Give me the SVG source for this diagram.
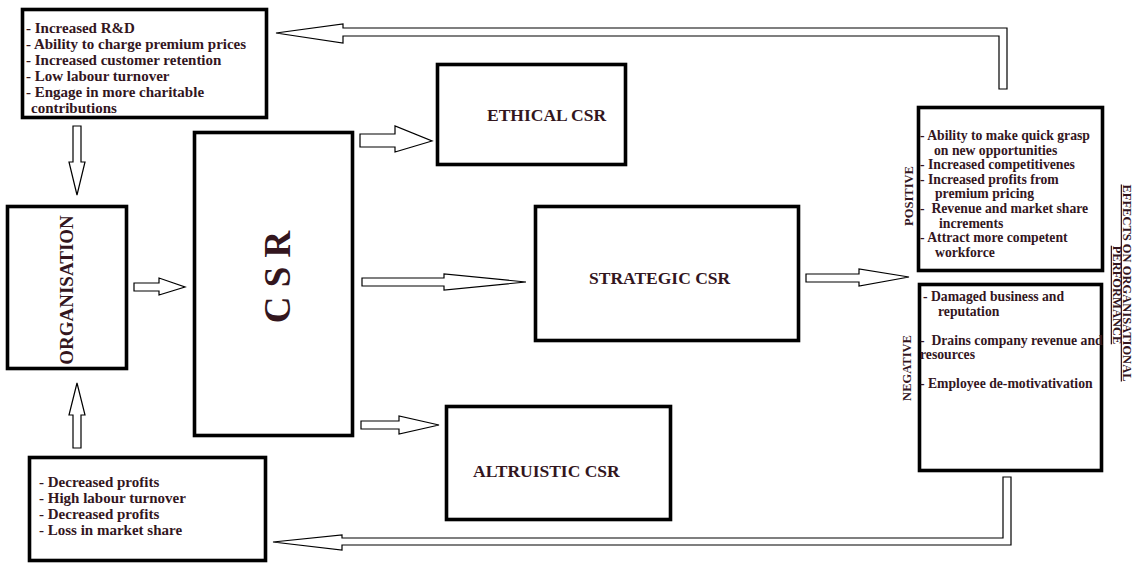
<svg xmlns="http://www.w3.org/2000/svg" width="1136" height="568" viewBox="0 0 1136 568">
<style>
.box{fill:#fff;stroke:#000;stroke-width:3.6}
.arr{fill:#fff;stroke:#000;stroke-width:1.2;stroke-linejoin:miter}
text{font-family:"Liberation Serif","Times New Roman",serif;font-weight:bold;fill:#33161e;white-space:pre}
.t15{font-size:15px}
.t14{font-size:13.7px}
.title{font-size:17.5px}
.side{font-size:12.5px}
</style>
<rect width="1136" height="568" fill="#fff"/>
<g id="connectors">
 <polygon class="arr" points="73,126 81,126 81,162 85,162 77,195 69,162 73,162"/>
 <polygon class="arr" points="73,448 81,448 81,415 85,415 77,383 69,415 73,415"/>
 <polygon class="arr" points="134,283 159,283 159,278 185,287 159,295 159,291 134,291"/>
 <polygon class="arr" points="360,134 395,134 395,126 432,141 395,152 395,147 360,147"/>
 <polygon class="arr" points="362,278 444,278 444,274 526,282 444,290 444,286 362,286"/>
 <polygon class="arr" points="361,421 399,421 399,416 439,425 399,434 399,429 361,429"/>
 <polygon class="arr" points="806,274 859,274 859,269 909,277 859,286 859,282 806,282"/>
 <polygon class="arr" points="276,33 343,24 343,28 1007,28 1007,89 999,89 999,36 343,36 343,43"/>
 <polygon class="arr" points="273,542 342,535 342,538 1003,538 1003,477 1011,477 1011,545 342,545 342,550"/>
</g>
<g id="benefits">
 <rect class="box" x="22.5" y="9.5" width="244" height="108"/>
 <text class="t15" x="26" y="33">- Increased R&amp;D</text>
 <text class="t15" x="26" y="49">- Ability to charge premium prices</text>
 <text class="t15" x="26" y="65">- Increased customer retention</text>
 <text class="t15" x="26" y="81">- Low labour turnover</text>
 <text class="t15" x="26" y="97">- Engage in more charitable</text>
 <text class="t15" x="31" y="113">contributions</text>
</g>
<g id="organisation">
 <rect class="box" x="7.5" y="206.5" width="119" height="162"/>
 <text transform="translate(73,290) rotate(-90)" text-anchor="middle" font-size="19">ORGANISATION</text>
</g>
<g id="csr">
 <rect class="box" x="194.5" y="132.5" width="158" height="303"/>
 <text transform="translate(290,277) rotate(-90)" text-anchor="middle" font-size="37" fill="#4a1828">C S R</text>
</g>
<g id="ethical">
 <rect class="box" x="437.5" y="64.5" width="188" height="100"/>
 <text class="title" x="487" y="121">ETHICAL CSR</text>
</g>
<g id="strategic">
 <rect class="box" x="535.5" y="206.5" width="263" height="134"/>
 <text class="title" x="589" y="284">STRATEGIC CSR</text>
</g>
<g id="altruistic">
 <rect class="box" x="446.5" y="406.5" width="224" height="113"/>
 <text class="title" x="473" y="477">ALTRUISTIC CSR</text>
</g>
<g id="positive">
 <rect class="box" x="918.5" y="107.5" width="184" height="163"/>
 <text class="t14" x="920" y="140">- Ability to make quick grasp</text>
 <text class="t14" x="934" y="154.6">on new opportunities</text>
 <text class="t14" x="920" y="169.2">- Increased competitivenes</text>
 <text class="t14" x="920" y="183.8">- Increased profits from</text>
 <text class="t14" x="935" y="198.4">premium pricing</text>
 <text class="t14" x="920" y="213">-  Revenue and market share</text>
 <text class="t14" x="939" y="227.6">increments</text>
 <text class="t14" x="920" y="242.2">- Attract more competent</text>
 <text class="t14" x="935" y="256.8">workforce</text>
</g>
<g id="negative">
 <rect class="box" x="919.5" y="284.5" width="182" height="186"/>
 <text class="t14" x="923" y="301">- Damaged business and</text>
 <text class="t14" x="938" y="316">reputation</text>
 <text class="t14" x="920" y="345">-  Drains company revenue and</text>
 <text class="t14" x="920" y="359">resources</text>
 <text class="t14" x="920" y="388">- Employee de-motivativation</text>
</g>
<g id="costs">
 <rect class="box" x="29.5" y="457.5" width="236" height="103"/>
 <text class="t15" x="39" y="487">- Decreased profits</text>
 <text class="t15" x="39" y="503">- High labour turnover</text>
 <text class="t15" x="39" y="519">- Decreased profits</text>
 <text class="t15" x="39" y="535">- Loss in market share</text>
</g>
<g id="labels">
 <text class="side" transform="translate(913,196) rotate(-90)" text-anchor="middle">POSITIVE</text>
 <text class="side" transform="translate(911,368) rotate(-90)" text-anchor="middle">NEGATIVE</text>
 <text class="side" transform="translate(1123,283) rotate(90)" text-anchor="middle" text-decoration="underline" fill="#4a1828">EFFECTS ON ORGANISATIONAL</text>
 <text class="side" transform="translate(1113,295) rotate(90)" text-anchor="middle" text-decoration="underline" fill="#4a1828" font-size="11">PERFORMANCE</text>
</g>
</svg>
